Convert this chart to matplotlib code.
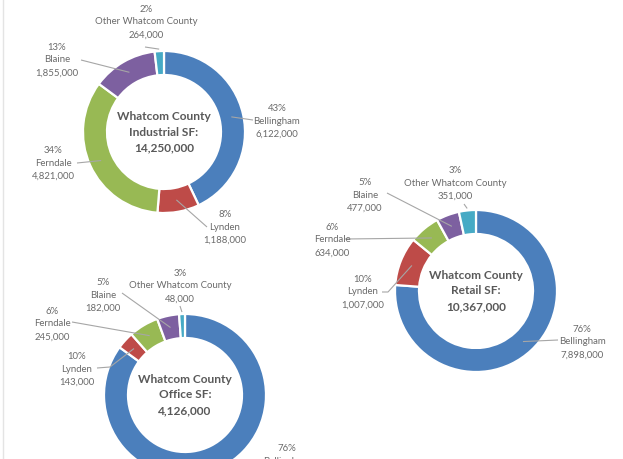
import numpy as np
import matplotlib
matplotlib.use("Agg")
import matplotlib.pyplot as plt

# ---------------- data ----------------
categories = ["Bellingham", "Lynden", "Ferndale", "Blaine", "Other Whatcom County"]

industrial_values = [6122000, 1188000, 4821000, 1855000, 264000]
industrial_pcts = ["43%", "8%", "34%", "13%", "2%"]
industrial_title = ["Whatcom County", "Industrial SF:", "14,250,000"]

retail_values = [7898000, 1007000, 634000, 477000, 351000]
retail_pcts = ["76%", "10%", "6%", "5%", "3%"]
retail_title = ["Whatcom County", "Retail SF:", "10,367,000"]

office_values = [3508000, 143000, 245000, 182000, 48000]
office_pcts = ["76%", "10%", "6%", "5%", "3%"]
office_title = ["Whatcom County", "Office SF:", "4,126,000"]

colors = ["#4B7FBC", "#BE4B48", "#98B954", "#7D60A0", "#46AAC5"]

# ---------------- layout (pixels, image coords) ----------------
W, H = 623, 459
R = 81
RING = 24
LABEL_COLOR = "#6a6a6a"
TITLE_COLOR = "#595959"
FONT = "Lato"

charts = [
    dict(values=industrial_values, pcts=industrial_pcts, title=industrial_title,
         center=(164, 132),
         labels=[(277, 121), (225, 227), (53, 163), (57, 60), (146, 22)],
         leaders=[[(253, 120)], [(207, 227)], [(77, 163)], [(81, 60)], [(145, 47)]],
         rfrac=[0.85, 0.85, 0.85, 0.85, 1.0]),
    dict(values=retail_values, pcts=retail_pcts, title=retail_title,
         center=(476, 291),
         labels=[(582, 342), (363, 292), (332, 240), (365, 195), (455, 183)],
         leaders=[[(558, 340)], [(382, 292), (388, 292)], [(345, 239)], [(387, 193)], [(464, 204)]],
         rfrac=[0.85, 0.85, 0.85, 0.85, 1.0]),
    dict(values=office_values, pcts=office_pcts, title=office_title,
         center=(185, 395),
         labels=[(287, 461), (77, 369), (52, 324), (103, 295), (180, 286)],
         leaders=[None, [(97, 368), (110, 367)], [(72, 322)], [(122, 293)], [(180, 306)]],
         rfrac=[0.85, 0.85, 0.85, 0.85, 1.0]),
]

fig = plt.figure(figsize=(W / 100, H / 100), dpi=100)
ax = fig.add_axes([0, 0, 1, 1])

def fy(y):
    return H - y

for ch in charts:
    cx, cy = ch["center"]
    vals = ch["values"]
    ax.pie(vals, colors=colors, center=(cx, fy(cy)), radius=R,
           startangle=90, counterclock=False,
           wedgeprops=dict(width=RING, edgecolor="white", linewidth=1.6))
    total = float(sum(vals))
    cum = np.cumsum([0] + list(vals))
    for i, cat in enumerate(categories):
        lx, ly = ch["labels"][i]
        txt = f"{ch['pcts'][i]}\n{cat}\n{vals[i]:,}"
        ax.text(lx, fy(ly), txt, ha="center", va="center", fontsize=6.9,
                color=LABEL_COLOR, family=FONT, linespacing=1.55, zorder=5)
        pts = ch["leaders"][i]
        if pts is None:
            continue
        mid = (cum[i] + cum[i + 1]) / 2 / total
        ang = np.deg2rad(90 - 360 * mid)
        rr = (R - RING / 2) if ch["rfrac"][i] < 1 else R + 2
        ex, ey = cx + rr * np.cos(ang), fy(cy) + rr * np.sin(ang)
        xs = [p[0] for p in pts] + [ex]
        ys = [fy(p[1]) for p in pts] + [ey]
        ax.plot(xs, ys, color="#a6a6a6", lw=0.8, zorder=4, solid_capstyle="butt")
    t = ch["title"]
    for k, line in enumerate(t):
        ax.text(cx, fy(cy - 15.5 + 15.5 * k), line, ha="center", va="center",
                fontsize=8.6, fontweight="bold", color=TITLE_COLOR, family=FONT)

# faint frame line at left
ax.plot([2.5, 2.5], [0, H], color="#e4e4e4", lw=1.0)

ax.set_xlim(0, W)
ax.set_ylim(0, H)
ax.set_aspect("auto")
ax.axis("off")
fig.savefig("out.png", dpi=100, facecolor="white")
